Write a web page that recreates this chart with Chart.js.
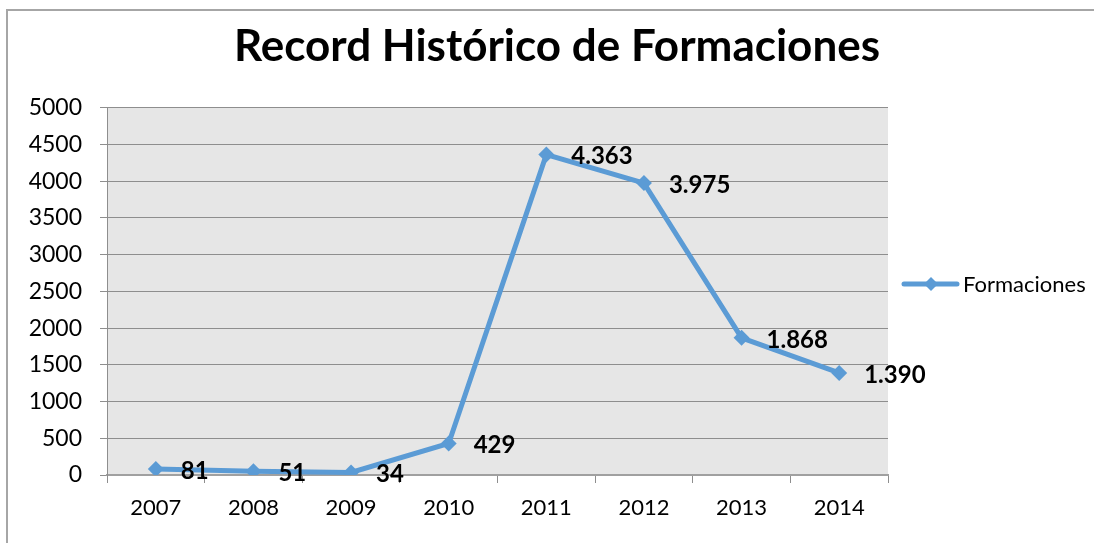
<!DOCTYPE html>
<html>
<head>
<meta charset="utf-8">
<script src="https://cdn.jsdelivr.net/npm/chart.js@4.4.1/dist/chart.umd.min.js"></script>
<style>
  body { margin: 0; background: #fff; overflow: hidden; }
  #wrap { position: relative; width: 1094px; height: 543px; overflow: hidden; }
  #frame { position: absolute; left: 6px; top: 9px; width: 1200px; height: 600px; border-left: 2px solid #a6a6a6; border-top: 2px solid #a6a6a6; }
  #chart { position: absolute; left: 0; top: 0; }
</style>
</head>
<body>
<div id="wrap">
  <div id="frame"></div>
  <canvas id="chart" width="1094" height="543"></canvas>
</div>
<script>
// DATA
const years = ['2007', '2008', '2009', '2010', '2011', '2012', '2013', '2014'];
const formaciones = [81, 51, 34, 429, 4363, 3975, 1868, 1390];
const yTicks = [0, 500, 1000, 1500, 2000, 2500, 3000, 3500, 4000, 4500, 5000];

const lineColor = '#5b9bd5';
const gridColor = '#8e8e8e';
const fontFamily = 'Lato, "Open Sans", sans-serif';

// 4363 -> "4.363"
function formatValue(v) {
  return String(v).replace(/\B(?=(\d{3})+(?!\d))/g, '.');
}

// Gray plot background
const plotBackground = {
  id: 'plotBackground',
  beforeDraw(chart) {
    const { ctx, chartArea: a } = chart;
    ctx.save();
    ctx.fillStyle = '#e6e6e6';
    ctx.fillRect(a.left, a.top, a.right - a.left, a.bottom - a.top);
    ctx.restore();
  }
};

// Value labels to the right of each point
const valueLabels = {
  id: 'valueLabels',
  afterDatasetsDraw(chart) {
    const { ctx } = chart;
    const meta = chart.getDatasetMeta(0);
    ctx.save();
    ctx.font = 'bold 24px ' + fontFamily;
    ctx.fillStyle = '#000';
    ctx.textAlign = 'left';
    ctx.textBaseline = 'middle';
    meta.data.forEach((pt, i) => {
      ctx.fillText(formatValue(chart.data.datasets[0].data[i]), pt.x + 25, pt.y + 2);
    });
    ctx.restore();
  }
};

// Legend on the right: line + diamond + text
const sideLegend = {
  id: 'sideLegend',
  afterDraw(chart) {
    const { ctx, chartArea: a } = chart;
    const ds = chart.data.datasets[0];
    const x0 = a.right + 16;
    const y = 284;
    ctx.save();
    ctx.strokeStyle = ds.borderColor;
    ctx.lineWidth = 5;
    ctx.lineCap = 'round';
    ctx.beginPath();
    ctx.moveTo(x0, y);
    ctx.lineTo(x0 + 53, y);
    ctx.stroke();
    ctx.fillStyle = ds.backgroundColor;
    const cx = x0 + 27;
    ctx.beginPath();
    ctx.moveTo(cx, y - 7);
    ctx.lineTo(cx + 7, y);
    ctx.lineTo(cx, y + 7);
    ctx.lineTo(cx - 7, y);
    ctx.closePath();
    ctx.fill();
    ctx.font = '22px ' + fontFamily;
    ctx.fillStyle = '#000';
    ctx.textAlign = 'left';
    ctx.textBaseline = 'middle';
    ctx.fillText(ds.label, x0 + 59, y + 1);
    ctx.restore();
  }
};

const ctx = document.getElementById('chart');
const chart = new Chart(ctx, {
  type: 'line',
  data: {
    labels: years,
    datasets: [{
      label: 'Formaciones',
      data: formaciones,
      borderColor: lineColor,
      backgroundColor: lineColor,
      borderWidth: 5,
      tension: 0,
      pointStyle: 'rectRot',
      pointRadius: 8,
      pointHoverRadius: 8,
      pointBorderWidth: 0,
      fill: false
    }]
  },
  options: {
    responsive: false,
    animation: false,
    layout: { padding: { left: 20, right: 0, top: 0, bottom: 0 } },
    plugins: {
      legend: { display: false },
      tooltip: { enabled: false },
      title: {
        display: true,
        text: 'Record Histórico de Formaciones',
        color: '#000',
        font: { family: fontFamily, size: 44, weight: 'bold', lineHeight: 1.2 },
        padding: { top: 20, bottom: 35 }
      }
    },
    scales: {
      x: {
        offset: true,
        grid: {
          offset: true,
          drawOnChartArea: false,
          drawTicks: true,
          tickLength: 8,
          color: gridColor
        },
        border: { color: '#a0a0a0', width: 2 },
        ticks: { color: '#000', font: { family: fontFamily, size: 22 }, padding: 12 },
        afterFit: s => { s.height = 68; }
      },
      y: {
        min: 0,
        max: 5000,
        grid: { color: gridColor, tickLength: 7 },
        border: { color: gridColor },
        ticks: {
          color: '#000',
          font: { family: fontFamily, size: 23 },
          padding: 18,
          stepSize: 500,
          callback: (v) => yTicks.includes(v) ? String(v) : ''
        },
        afterFit: s => { s.width = 87; }
      },
      spacer: {
        type: 'linear',
        position: 'right',
        grid: { display: false },
        border: { display: false },
        ticks: { display: false },
        afterFit: s => { s.width = 206; }
      }
    }
  },
  plugins: [plotBackground, valueLabels, sideLegend]
});
</script>
</body>
</html>
